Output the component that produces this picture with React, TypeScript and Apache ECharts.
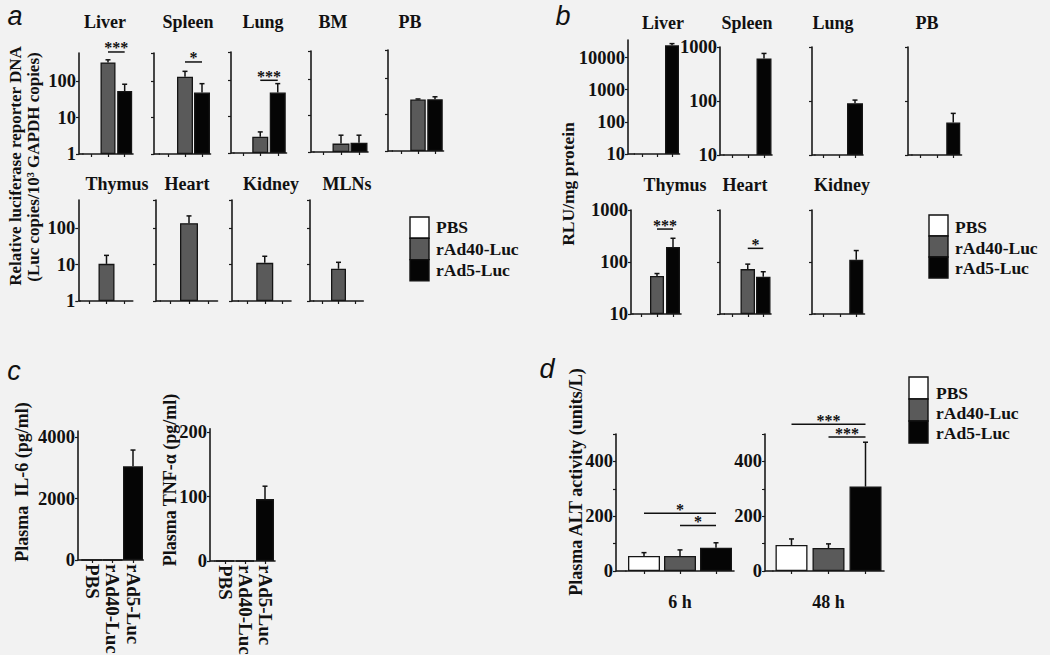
import React, { useEffect, useRef } from 'react';
import * as echarts from 'echarts';

// ---------- data ----------
const groups = ['PBS', 'rAd40-Luc', 'rAd5-Luc'];

// a: relative luciferase reporter DNA (Luc copies / 10^3 GAPDH copies)
const aTopOrgans = ['Liver', 'Spleen', 'Lung', 'BM', 'PB'];
const aTopRAd40 = [330, 134, 2.8, 1.7, 26];
const aTopRAd40Err = [60, 54, 1.0, 1.2, 1];
const aTopRAd5 = [54, 49, 46, 1.8, 26.5];
const aTopRAd5Err = [29, 37, 35, 1.1, 4.5];
const aBottomOrgans = ['Thymus', 'Heart', 'Kidney', 'MLNs'];
const aBottomRAd40 = [10.5, 138, 11.2, 7.7];
const aBottomRAd40Err = [7.5, 81, 5.8, 3.9];

// b: RLU / mg protein
const bTopOrgans = ['Liver', 'Spleen', 'Lung', 'PB'];
const bTopRAd5 = [24000, 614, 91, 40];
const bTopRAd5Err = [3000, 146, 13, 19];
const bTopMax = [35000, 1000, 1000, 1000];
const bBottomOrgans = ['Thymus', 'Heart', 'Kidney'];
const bBottomRAd40: (number | null)[] = [54, 73, null];
const bBottomRAd40Err = [6, 18, 0];
const bBottomRAd5 = [194, 52, 110];
const bBottomRAd5Err = [92, 13, 56];

// c: plasma cytokines
const il6 = [0, 0, 3050];
const il6Err = [0, 0, 530];
const tnf = [0, 0, 96];
const tnfErr = [0, 0, 20];

// d: plasma ALT activity (units/L)
const altTimes = ['6 h', '48 h'];
const altPBS = [55, 95];
const altPBSErr = [12, 22];
const altRAd40 = [55, 84];
const altRAd40Err = [22, 15];
const altRAd5 = [85, 308];
const altRAd5Err = [18, 162];

// significance brackets: subplot index, from/to category, level (data units), stars
const sigSub = [0, 1, 2, 13, 14, 18, 18, 19, 19];
const sigFrom = [1, 1, 1, 1, 1, 0, 1, 0, 1];
const sigTo = [2, 2, 2, 2, 2, 2, 2, 2, 2];
const sigLevel = [640, 340, 100, 430, 183, 211, 166, 536, 489];
const sigStars = ['***', '*', '***', '***', '*', '*', '*', '***', '***'];

// ---------- layout / style ----------
const FONT = '"Liberation Serif", "Times New Roman", serif';
const SANS = '"Liberation Sans", Arial, sans-serif';
const AX = '#1a1a1a';
const TXT = '#111';
const BG = '#f2f2f2';
const COLORS = ['#ffffff', '#5a5a5a', '#050505'];

type Box = { left: number; top: number; width: number; height: number; yOff: number; barW: number };
const aTopLayout: Box[] = [
  { left: 83, top: 53, width: 50, height: 101, yOff: 4, barW: 15 },
  { left: 159.5, top: 53, width: 51, height: 101, yOff: 5.5, barW: 16 },
  { left: 234, top: 52, width: 52.5, height: 101, yOff: 3, barW: 16 },
  { left: 314, top: 51, width: 54, height: 101, yOff: 3, barW: 17 },
  { left: 392.5, top: 50, width: 51, height: 101, yOff: 4.5, barW: 15.5 },
];
const aBottomLayout: Box[] = [
  { left: 80.25, top: 200, width: 52.5, height: 101, yOff: 2, barW: 16 },
  { left: 160.5, top: 200, width: 57, height: 101, yOff: 4.5, barW: 18 },
  { left: 238.5, top: 200, width: 52.5, height: 101, yOff: 6.5, barW: 17 },
  { left: 313.75, top: 200, width: 49.5, height: 101, yOff: 3.75, barW: 15 },
];
const bTopLayout: Box[] = [
  { left: 634.5, top: 40, width: 45, height: 114, yOff: 6.5, barW: 14 },
  { left: 724, top: 47, width: 48, height: 108, yOff: 4, barW: 15 },
  { left: 815, top: 47, width: 48, height: 108, yOff: 3, barW: 16 },
  { left: 912, top: 47, width: 49.5, height: 108, yOff: 4, barW: 14 },
];
const bBottomLayout: Box[] = [
  { left: 633, top: 210, width: 48, height: 104, yOff: 2, barW: 14 },
  { left: 724.5, top: 210, width: 46.5, height: 104, yOff: 4.5, barW: 14.5 },
  { left: 815, top: 210, width: 49.5, height: 104, yOff: 3, barW: 14 },
];
const cLayout: Box[] = [
  { left: 81.75, top: 431, width: 61.5, height: 129, yOff: 3.75, barW: 20 },
  { left: 215, top: 428.8, width: 60, height: 132.2, yOff: 5, barW: 18 },
];
const dLayout: Box[] = [
  { left: 626, top: 434, width: 108, height: 137, yOff: 10, barW: 32 },
  { left: 773, top: 434, width: 111, height: 137, yOff: 8, barW: 32 },
];

type Sub = Box & {
  yType: 'log' | 'value';
  min: number;
  max: number;
  interval?: number;
  labels: boolean;
  hideMax?: boolean;
  catLabels?: boolean;
  xName?: string;
  labelStep?: number;
  values: (number | null)[];
  errs: number[];
};

const subs: Sub[] = [
  ...aTopOrgans.map((_, k) => ({
    ...aTopLayout[k], yType: 'log' as const, min: 1, max: 600, labels: k === 0, hideMax: true,
    values: [null, aTopRAd40[k], aTopRAd5[k]], errs: [0, aTopRAd40Err[k], aTopRAd5Err[k]],
  })),
  ...aBottomOrgans.map((_, k) => ({
    ...aBottomLayout[k], yType: 'log' as const, min: 1, max: 600, labels: k === 0, hideMax: true,
    values: [null, aBottomRAd40[k], null], errs: [0, aBottomRAd40Err[k], 0],
  })),
  ...bTopOrgans.map((_, k) => ({
    ...bTopLayout[k], yType: 'log' as const, min: 10, max: bTopMax[k], labels: k <= 1, hideMax: k === 0,
    values: [null, null, bTopRAd5[k]], errs: [0, 0, bTopRAd5Err[k]],
  })),
  ...bBottomOrgans.map((_, k) => ({
    ...bBottomLayout[k], yType: 'log' as const, min: 10, max: 1000, labels: k === 0, hideMax: false,
    values: [null, bBottomRAd40[k], bBottomRAd5[k]], errs: [0, bBottomRAd40Err[k], bBottomRAd5Err[k]],
  })),
  {
    ...cLayout[0], yType: 'value', min: 0, max: 4200, interval: 2000, labels: true, hideMax: true, catLabels: true,
    values: il6, errs: il6Err,
  },
  {
    ...cLayout[1], yType: 'value', min: 0, max: 205, interval: 100, labels: true, hideMax: true, catLabels: true,
    values: tnf, errs: tnfErr,
  },
  ...altTimes.map((t, k) => ({
    ...dLayout[k], yType: 'value' as const, min: 0, max: 500, interval: 100, labels: true, labelStep: 200,
    xName: t,
    values: [altPBS[k], altRAd40[k], altRAd5[k]], errs: [altPBSErr[k], altRAd40Err[k], altRAd5Err[k]],
  })),
];

function buildOption() {
  const grid: any[] = [];
  const xAxis: any[] = [];
  const yAxis: any[] = [];
  const series: any[] = [];
  subs.forEach((s, i) => {
    grid.push({ left: s.left, top: s.top, width: s.width, height: s.height, containLabel: false, outerBoundsMode: 'none' });
    xAxis.push({
      type: 'category', gridIndex: i, data: groups, boundaryGap: true,
      axisLine: { show: true, onZero: false, lineStyle: { color: AX, width: 1.6 } },
      axisTick: { show: true, alignWithLabel: true, length: 3, lineStyle: { color: AX, width: 1.2 } },
      axisLabel: {
        show: !!s.catLabels, rotate: -90, margin: 4, interval: 0,
        fontFamily: FONT, fontWeight: 'bold', fontSize: 19, color: TXT,
      },
      splitLine: { show: false },
      name: s.xName || '', nameLocation: 'middle', nameGap: 22,
      nameTextStyle: { fontFamily: FONT, fontWeight: 'bold', fontSize: 18, color: TXT },
    });
    const step = s.labelStep;
    yAxis.push({
      type: s.yType, gridIndex: i, min: s.min, max: s.max, interval: s.interval, logBase: 10,
      offset: s.yOff, startValue: s.min > 0 ? s.min : 0,
      axisLine: { show: true, onZero: false, lineStyle: { color: AX, width: 1.6 } },
      axisTick: { show: true, length: 3, lineStyle: { color: AX, width: 1.2 } },
      axisLabel: {
        show: s.labels, margin: 3, fontFamily: FONT, fontWeight: 'bold', fontSize: 18.5, color: TXT,
        showMaxLabel: !s.hideMax, showMinLabel: true,
        formatter: (v: number) => {
          const r = Math.round(v);
          if (step && r % step !== 0) return '';
          return String(r);
        },
      },
      splitLine: { show: false },
    });
    series.push({
      type: 'bar', xAxisIndex: i, yAxisIndex: i, barWidth: s.barW, clip: true, silent: true,
      itemStyle: { borderColor: '#151515', borderWidth: 1.3 },
      data: s.values.map((v, k) => (v == null ? '-' : { value: v, itemStyle: { color: COLORS[k] } })),
      z: 2,
    });
    series.push({
      type: 'custom', xAxisIndex: i, yAxisIndex: i, silent: true, z: 3,
      encode: { x: 0, y: 1 },
      data: s.values
        .map((v, k) => (v == null || !s.errs[k] ? null : [k, v, s.errs[k]]))
        .filter((d) => d !== null),
      renderItem: (_p: any, api: any) => {
        const x = api.value(0);
        const m = api.value(1);
        const e = api.value(2);
        const p0 = api.coord([x, m]);
        const p1 = api.coord([x, m + e]);
        return {
          type: 'group',
          children: [
            { type: 'line', shape: { x1: p0[0], y1: p0[1], x2: p1[0], y2: p1[1] }, style: { stroke: '#111', lineWidth: 1.5 } },
            { type: 'line', shape: { x1: p1[0] - 2.5, y1: p1[1], x2: p1[0] + 2.5, y2: p1[1] }, style: { stroke: '#111', lineWidth: 1.5 } },
          ],
        };
      },
    });
  });
  return {
    animation: false,
    backgroundColor: BG,
    grid, xAxis, yAxis, series,
  };
}

function txt(text: string, x: number, y: number, size: number, extra: any = {}) {
  const family = extra.sans ? SANS : FONT;
  const weight = extra.italic ? 'italic' : 'bold';
  const { sans, italic, align, ...rest } = extra;
  return {
    type: 'text', x, y, silent: true, ...rest,
    style: {
      text, fill: TXT, font: `${weight} ${size}px ${family}`,
      textAlign: align || 'center', textVerticalAlign: 'middle',
      align: align || 'center', verticalAlign: 'middle',
    },
  };
}

function legend(x: number, y: number, h: number, tx: number, ty: number[]) {
  const els: any[] = [];
  COLORS.forEach((c, k) => {
    els.push({
      type: 'rect', silent: true,
      shape: { x, y: y + k * h, width: 19, height: h },
      style: { fill: c, stroke: '#111', lineWidth: 1.4 },
    });
    els.push(txt(groups[k], tx, ty[k], 17.5, { align: 'left' }));
  });
  return els;
}

function staticGraphics() {
  const g: any[] = [];
  // panel letters
  g.push(txt('a', 15, 16, 27, { italic: true, sans: true }));
  g.push(txt('b', 563, 16, 27, { italic: true, sans: true }));
  g.push(txt('c', 14, 371, 27, { italic: true, sans: true }));
  g.push(txt('d', 547, 369, 27, { italic: true, sans: true }));
  // subpanel titles
  const aTopX = [105, 188, 263, 333, 410];
  aTopOrgans.forEach((o, k) => g.push(txt(o, aTopX[k], 22, 18)));
  const aBotX = [117, 187, 271, 347];
  aBottomOrgans.forEach((o, k) => g.push(txt(o, aBotX[k], 184, 18)));
  const bTopX = [663, 747, 833, 927];
  bTopOrgans.forEach((o, k) => g.push(txt(o, bTopX[k], 23, 18)));
  const bBotX = [675, 745, 842];
  bBottomOrgans.forEach((o, k) => g.push(txt(o, bBotX[k], 185, 18)));
  // axis titles
  const rot = { rotation: Math.PI / 2 };
  g.push(txt('Relative luciferase reporter DNA', 15, 166, 17, rot));
  g.push(txt('(Luc copies/10\u00b3 GAPDH copies)', 33, 167, 17, rot));
  g.push(txt('RLU/mg protein', 568, 184, 17.5, rot));
  g.push(txt('Plasma  IL-6 (pg/ml)', 22, 482, 18, rot));
  g.push(txt('Plasma TNF-\u03b1 (pg/ml)', 170, 480, 18, rot));
  g.push(txt('Plasma ALT activity (units/L)', 576, 482, 18, rot));
  // legends
  g.push(...legend(410, 217, 21.3, 436, [227, 249, 270]));
  g.push(...legend(929, 215, 21, 955, [227, 248, 268]));
  g.push(...legend(909, 377, 22, 936, [393, 413, 433]));
  // x-axis extension to the offset y-axis
  subs.forEach((s) => {
    if (s.yOff > 0) {
      const yb = s.top + s.height;
      g.push({
        type: 'line', silent: true,
        shape: { x1: s.left - s.yOff, y1: yb, x2: s.left + 0.5, y2: yb },
        style: { stroke: AX, lineWidth: 1.6 },
      });
    }
  });
  return g;
}

function sigGraphics(chart: echarts.ECharts) {
  const g: any[] = [];
  sigSub.forEach((si, k) => {
    const finder = { xAxisIndex: si, yAxisIndex: si };
    const p1 = chart.convertToPixel(finder as any, [sigFrom[k], sigLevel[k]]) as number[];
    const p2 = chart.convertToPixel(finder as any, [sigTo[k], sigLevel[k]]) as number[];
    if (!p1 || !p2) return;
    g.push({
      type: 'line', silent: true,
      shape: { x1: p1[0], y1: p1[1], x2: p2[0], y2: p2[1] },
      style: { stroke: '#111', lineWidth: 1.5 },
    });
    g.push(txt(sigStars[k], (p1[0] + p2[0]) / 2, p1[1] - 4, 16));
  });
  return g;
}

export default function App() {
  const ref = useRef<HTMLDivElement>(null);
  useEffect(() => {
    if (!ref.current) return;
    const chart = echarts.init(ref.current, undefined, { renderer: 'svg' });
    chart.setOption(buildOption() as any);
    chart.setOption({ graphic: { elements: [...staticGraphics(), ...sigGraphics(chart)] } } as any);
    return () => chart.dispose();
  }, []);
  return (
    <div
      ref={ref}
      style={{ position: 'fixed', left: 0, top: 0, width: 1050, height: 655, background: BG }}
    />
  );
}
